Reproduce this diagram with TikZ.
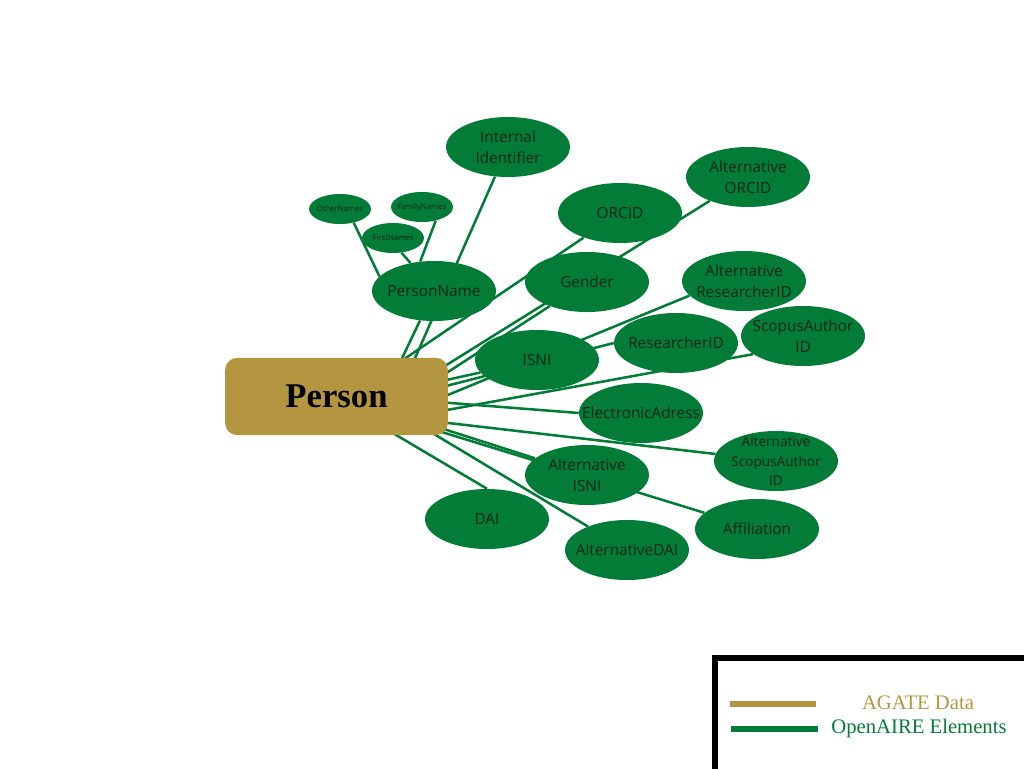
\documentclass[tikz,border=0pt]{standalone}
\usepackage{fontspec}
\setmainfont{Open Sans}
\newfontfamily\legendfont{Liberation Serif}
\usetikzlibrary{
        backgrounds,
        calc,
        shapes.geometric
    }
\definecolor{oagreen}{RGB}{2,124,55}
\definecolor{agategold}{RGB}{181,150,64}
\definecolor{labeldark}{RGB}{16,38,22}
\tikzset{element/.style={ellipse,fill=oagreen,text=labeldark,minimum width=93pt,minimum height=45pt,
        inner xsep=-12pt,inner ysep=-4pt,align=center,font=\fontsize{11.5}{16}\selectfont}}
\tikzset{subname/.style={element,minimum width=46.5pt,minimum height=22.5pt,font=\fontsize{5.8}{7}\selectfont}}
\tikzset{agate/.style={rectangle,rounded corners=9pt,fill=agategold,minimum width=167pt,minimum height=58pt,
        font=\legendfont\bfseries\fontsize{26}{30}\selectfont}}
\tikzset{link/.style={draw=oagreen,line width=1.9pt}}
\tikzset{legendtext/.style={font=\legendfont\fontsize{15.5}{18}\selectfont}}

\begin{document}
\begin{tikzpicture}[x=0.75pt,y=-0.75pt]
                \useasboundingbox (0,0) rectangle (1024,768);
                \node[agate] (person) at (336.5,396.5) {Person};
                \node[element] (internalid) at (508,147) {Internal\\Identifier};
                \node[element] (altorcid) at (748,177) {Alternative\\ORCID};
                \node[element] (orcid) at (620,213) {ORCID};
                \node[subname] (othernames) at (340,209) {OtherNames};
                \node[subname] (familynames) at (422,207) {FamilyNames};
                \node[subname] (firstnames) at (393,238) {FirstNames};
                \node[element] (personname) at (434,291) {PersonName};
                \node[element] (gender) at (587,282) {Gender};
                \node[element] (altresearcherid) at (744,281) {Alternative\\ResearcherID};
                \node[element] (isni) at (537,360) {ISNI};
                \node[element] (researcherid) at (676,343) {ResearcherID};
                \node[element] (scopusid) at (803,336) {ScopusAuthor\\ID};
                \node[element] (eaddress) at (641,413) {ElectronicAdress};
                \node[element,font=\fontsize{10.2}{14.6}\selectfont] (altscopusid) at (776,461) {Alternative\\ScopusAuthor\\ID};
                \node[element] (altisni) at (587,475) {Alternative\\ISNI};
                \node[element] (affiliation) at (757,529) {Affiliation};
                \node[element] (dai) at (487,519) {DAI};
                \node[element] (altdai) at (627,550) {AlternativeDAI};
            \begin{scope}[on background layer]
            \path[link]
                    ($(person.north)+(64,4)$) edge (personname)
                    ($(person.north)+(64,4)$) edge (orcid)
                    ($(person.north)+(77,4)$) edge (internalid)
                    ($(person.east)+(-4,-30)$) edge (altorcid)
                    ($(person.east)+(-4,-22)$) edge (gender)
                    ($(person.east)+(-4,-16)$) edge (isni)
                    ($(person.east)+(-4,-10)$) edge (researcherid.west)
                    ($(person.east)+(-4,0)$) edge (altresearcherid.195)
                    ($(person.east)+(-4,6)$) edge (eaddress.west)
                    ($(person.east)+(-4,14)$) edge (scopusid.200)
                    ($(person.east)+(-4,26)$) edge (altscopusid)
                    ($(person.east)+(-6,32)$) edge (altisni)
                    ($(person.east)+(-8,35)$) edge (affiliation)
                    ($(person.south east)+(-15,-2)$) edge (altdai)
                    ($(person.south)+(57,-2)$) edge (dai.north)
                    (othernames.-45) edge (personname.165)
                    (firstnames.-60) edge (personname.130)
                    (familynames.-45) edge (personname.115);
            \end{scope}
            % legend
            \draw[line width=4.5pt] (715,780) -- (715,658) -- (1040,658);
            \draw[agategold,line width=4.5pt] (730,704) -- (816,704);
            \draw[oagreen,line width=4.5pt] (731,729) -- (818,729);
                \node[legendtext,text=agategold] (agatelabel) at (918,703) {AGATE Data};
                \node[legendtext,text=oagreen] (openairelabel) at (919,729) {OpenAIRE Elements};
            \end{tikzpicture}
\end{document}
